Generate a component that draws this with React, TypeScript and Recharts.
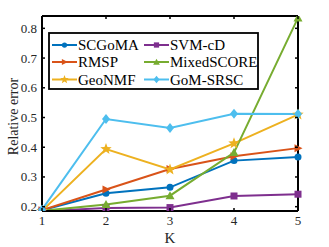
import React from 'react'
import { LineChart, Line, XAxis, YAxis } from 'recharts'

const kValues = [1, 2, 3, 4, 5]
const scgoma = [0.188, 0.245, 0.265, 0.355, 0.367]
const rmsp = [0.188, 0.258, 0.327, 0.37, 0.397]
const geonmf = [0.186, 0.394, 0.325, 0.413, 0.51]
const svmcd = [0.185, 0.196, 0.197, 0.236, 0.242]
const mixedscore = [0.186, 0.207, 0.237, 0.382, 0.835]
const gomsrsc = [0.19, 0.495, 0.465, 0.513, 0.512]
const yTicks = [0.2, 0.3, 0.4, 0.5, 0.6, 0.7, 0.8]

const data = kValues.map((k, i) => ({
  k,
  scgoma: scgoma[i],
  rmsp: rmsp[i],
  geonmf: geonmf[i],
  svmcd: svmcd[i],
  mixedscore: mixedscore[i],
  gomsrsc: gomsrsc[i],
}))

type Shape = 'circle' | 'right' | 'star' | 'square' | 'up' | 'diamond'

const series: { key: string; name: string; color: string; shape: Shape }[] = [
  { key: 'scgoma', name: 'SCGoMA', color: '#0072BD', shape: 'circle' },
  { key: 'rmsp', name: 'RMSP', color: '#D95319', shape: 'right' },
  { key: 'geonmf', name: 'GeoNMF', color: '#EDB120', shape: 'star' },
  { key: 'svmcd', name: 'SVM-cD', color: '#7E2F8E', shape: 'square' },
  { key: 'mixedscore', name: 'MixedSCORE', color: '#77AC30', shape: 'up' },
  { key: 'gomsrsc', name: 'GoM-SRSC', color: '#4DBEEE', shape: 'diamond' },
]

const font = 'Liberation Serif'

function starPoints(cx: number, cy: number, r: number) {
  const pts: string[] = []
  for (let i = 0; i < 10; i++) {
    const rr = i % 2 === 0 ? r : r * 0.42
    const a = -Math.PI / 2 + (i * Math.PI) / 5
    pts.push(`${cx + rr * Math.cos(a)},${cy + rr * Math.sin(a)}`)
  }
  return pts.join(' ')
}

function Marker({ cx, cy, shape, color, s = 1 }: { cx: number; cy: number; shape: Shape; color: string; s?: number }) {
  if (cx == null || cy == null) return null
  switch (shape) {
    case 'circle':
      return <circle cx={cx} cy={cy} r={3.5 * s} fill={color} />
    case 'right':
      return <polygon points={`${cx - 3.5 * s},${cy - 4 * s} ${cx + 4.5 * s},${cy} ${cx - 3.5 * s},${cy + 4 * s}`} fill={color} />
    case 'star':
      return <polygon points={starPoints(cx, cy, 6 * s)} fill={color} />
    case 'square':
      return <rect x={cx - 3.5 * s} y={cy - 3.5 * s} width={7 * s} height={7 * s} fill={color} />
    case 'up':
      return <polygon points={`${cx},${cy - 4.5 * s} ${cx + 4.5 * s},${cy + 3.5 * s} ${cx - 4.5 * s},${cy + 3.5 * s}`} fill={color} />
    case 'diamond':
      return <polygon points={`${cx},${cy - 5 * s} ${cx + 4 * s},${cy} ${cx},${cy + 5 * s} ${cx - 4 * s},${cy}`} fill={color} />
  }
  return null
}

const BottomTick = (props: any) => {
  const { x, y, payload } = props
  return (
    <g>
      <line x1={x} y1={y} x2={x} y2={y - 3} stroke="#000" strokeWidth={1.5} />
      <text x={x} y={y + 14} textAnchor="middle" style={{ fontFamily: font, fontSize: 13 }} fill="#262626">
        {payload.value}
      </text>
    </g>
  )
}

const TopTick = (props: any) => {
  const { x, y } = props
  return <line x1={x} y1={y} x2={x} y2={y + 3} stroke="#000" strokeWidth={1.5} />
}

const LeftTick = (props: any) => {
  const { x, y, payload } = props
  return (
    <g>
      <line x1={x} y1={y} x2={x + 3} y2={y} stroke="#000" strokeWidth={1.5} />
      <text x={x - 5} y={y + 4.5} textAnchor="end" style={{ fontFamily: font, fontSize: 13 }} fill="#262626">
        {payload.value.toFixed(1)}
      </text>
    </g>
  )
}

const RightTick = (props: any) => {
  const { x, y } = props
  return <line x1={x} y1={y} x2={x - 3} y2={y} stroke="#000" strokeWidth={1.5} />
}

// legend drawn as its own svg over the plot, two columns of three
const LegendBox = () => {
  const colX = [4, 96]
  const rowY = [13, 30, 47.5]
  return (
    <svg width={211} height={58} style={{ position: 'absolute', left: 48, top: 32 }}>
      <rect x={1} y={1} width={209} height={56} fill="#fff" stroke="#000" strokeWidth={1.8} />
      {series.map((s, i) => {
        const x = colX[Math.floor(i / 3)]
        const y = rowY[i % 3]
        return (
          <g key={s.key}>
            <line x1={x} y1={y} x2={x + 25} y2={y} stroke={s.color} strokeWidth={2} />
            <Marker cx={x + 12.5} cy={y} shape={s.shape} color={s.color} s={0.75} />
            <text x={x + 26} y={y + 5} style={{ fontFamily: font, fontSize: 15 }} fill="#000">
              {s.name}
            </text>
          </g>
        )
      })}
    </svg>
  )
}

export default function App() {
  return (
    <div style={{ position: 'absolute', left: 0, top: 0, width: 329, height: 247, background: '#fff' }}>
      <LineChart width={329} height={247} data={data} margin={{ top: 1, right: 1, left: 0, bottom: 0 }}>
        <XAxis
          xAxisId="bottom"
          dataKey="k"
          type="number"
          domain={[1, 5]}
          ticks={kValues}
          height={36}
          tickSize={0}
          tickMargin={0}
          axisLine={{ stroke: '#000', strokeWidth: 2 }}
          tickLine={false}
          tick={<BottomTick />}
          label={{
            content: (p: any) => (
              <text
                x={p.viewBox.x + p.viewBox.width / 2}
                y={p.viewBox.y + 32}
                textAnchor="middle"
                style={{ fontFamily: font, fontSize: 15 }}
                fill="#262626"
              >
                K
              </text>
            ),
          }}
        />
        <XAxis
          xAxisId="top"
          orientation="top"
          dataKey="k"
          type="number"
          domain={[1, 5]}
          ticks={kValues}
          height={15}
          tickSize={0}
          tickMargin={0}
          axisLine={{ stroke: '#000', strokeWidth: 2 }}
          tickLine={false}
          tick={<TopTick />}
        />
        <YAxis
          yAxisId="left"
          type="number"
          domain={[0.1855, 0.8415]}
          allowDataOverflow
          ticks={yTicks}
          width={42}
          tickSize={0}
          tickMargin={0}
          axisLine={{ stroke: '#000', strokeWidth: 2 }}
          tickLine={false}
          tick={<LeftTick />}
          label={{
            content: (p: any) => {
              const cx = p.viewBox.x + 13
              const cy = p.viewBox.y + p.viewBox.height / 2 + 3
              return (
                <text
                  x={cx}
                  y={cy}
                  transform={`rotate(-90 ${cx} ${cy})`}
                  textAnchor="middle"
                  dominantBaseline="central"
                  style={{ fontFamily: font, fontSize: 14 }}
                  fill="#262626"
                >
                  Relative error
                </text>
              )
            },
          }}
        />
        <YAxis
          yAxisId="right"
          orientation="right"
          type="number"
          domain={[0.1855, 0.8415]}
          allowDataOverflow
          ticks={yTicks}
          width={30}
          tickSize={0}
          tickMargin={0}
          axisLine={{ stroke: '#000', strokeWidth: 2 }}
          tickLine={false}
          tick={<RightTick />}
        />
        {series.map((s) => (
          <Line
            key={s.key}
            xAxisId="bottom"
            yAxisId="left"
            dataKey={s.key}
            name={s.name}
            stroke={s.color}
            strokeWidth={2}
            isAnimationActive={false}
            dot={(p: any) => <Marker key={`${s.key}-${p.index}`} cx={p.cx} cy={p.cy} shape={s.shape} color={s.color} />}
            activeDot={false}
          />
        ))}
      </LineChart>
      <LegendBox />
    </div>
  )
}
